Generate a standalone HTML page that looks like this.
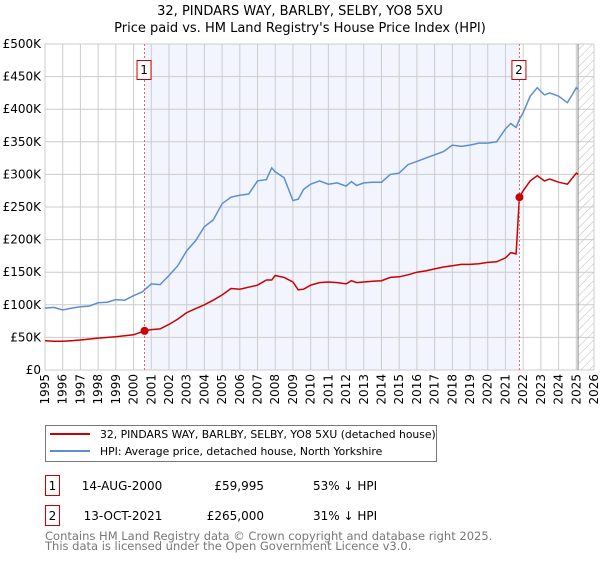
<!DOCTYPE html>
<html><head><meta charset="utf-8"><style>
body{margin:0;background:#fff;font-family:"DejaVu Sans","Liberation Sans",sans-serif;}
svg text{font-family:"DejaVu Sans","Liberation Sans",sans-serif;}
</style></head><body>
<svg id="c" width="600" height="560" xmlns="http://www.w3.org/2000/svg">
<defs><pattern id="hatch" width="6" height="6" patternUnits="userSpaceOnUse" patternTransform="rotate(45)"><line x1="0" y1="0" x2="0" y2="6" stroke="#bbb" stroke-width="1"/></pattern></defs>
<text x="300" y="15" text-anchor="middle" font-size="13">32, PINDARS WAY, BARLBY, SELBY, YO8 5XU</text>
<text x="300" y="32" text-anchor="middle" font-size="13">Price paid vs. HM Land Registry's House Price Index (HPI)</text>
<g id="plot"></g>
<rect x="45.5" y="425.5" width="391" height="36" fill="#fff" stroke="#777"/>
<line x1="50" y1="434" x2="90" y2="434" stroke="#cc0000" stroke-width="2"/>
<text x="100" y="438" font-size="10.8">32, PINDARS WAY, BARLBY, SELBY, YO8 5XU (detached house)</text>
<line x1="50" y1="451" x2="90" y2="451" stroke="#5b8fd4" stroke-width="2"/>
<text x="100" y="455" font-size="10.8">HPI: Average price, detached house, North Yorkshire</text>
<g font-size="12">
<rect x="45.5" y="475.5" width="14" height="20" fill="#fff" stroke="#cc0000"/>
<text x="52.5" y="490" text-anchor="middle">1</text>
<text x="122" y="490" text-anchor="middle">14-AUG-2000</text>
<text x="264" y="490" text-anchor="end">£59,995</text>
<text x="313" y="490">53% ↓ HPI</text>
<rect x="45.5" y="505.5" width="14" height="20" fill="#fff" stroke="#cc0000"/>
<text x="52.5" y="520" text-anchor="middle">2</text>
<text x="123" y="520" text-anchor="middle">13-OCT-2021</text>
<text x="264" y="520" text-anchor="end">£265,000</text>
<text x="313" y="520">31% ↓ HPI</text>
</g>
<text x="45" y="540" font-size="11.5" fill="#777">Contains HM Land Registry data © Crown copyright and database right 2025.</text>
<text x="45" y="550" font-size="11.5" fill="#777">This data is licensed under the Open Government Licence v3.0.</text>
</svg>
<script>
const yTicks=[0,50000,100000,150000,200000,250000,300000,350000,400000,450000,500000];
const yTickLabels=["£0","£50K","£100K","£150K","£200K","£250K","£300K","£350K","£400K","£450K","£500K"];
const xYears=[1995,1996,1997,1998,1999,2000,2001,2002,2003,2004,2005,2006,2007,2008,2009,2010,2011,2012,2013,2014,2015,2016,2017,2018,2019,2020,2021,2022,2023,2024,2025,2026];
const hpiT=[1995,1995.5,1996,1996.5,1997,1997.5,1998,1998.5,1999,1999.5,2000,2000.5,2001,2001.5,2002,2002.5,2003,2003.5,2004,2004.5,2005,2005.5,2006,2006.5,2007,2007.5,2007.8,2008,2008.5,2009,2009.3,2009.6,2010,2010.5,2011,2011.5,2012,2012.3,2012.6,2013,2013.5,2014,2014.5,2015,2015.5,2016,2016.5,2017,2017.5,2018,2018.5,2019,2019.5,2020,2020.5,2021,2021.3,2021.6,2021.8,2022,2022.4,2022.8,2023.2,2023.5,2024,2024.5,2025,2025.1];
const hpiV=[95000,96000,92000,95000,97000,98000,103000,104000,108000,107000,114000,120000,132000,131000,145000,160000,183000,198000,220000,230000,255000,265000,268000,270000,290000,292000,310000,304000,295000,260000,262000,277000,285000,290000,285000,287000,282000,289000,283000,287000,288000,288000,300000,302000,315000,320000,325000,330000,335000,345000,343000,345000,348000,348000,350000,370000,378000,372000,385000,395000,420000,433000,422000,425000,420000,410000,433000,430000];
const ppT=[1995,1995.5,1996,1996.5,1997,1998,1999,2000,2000.62,2001,2001.5,2002,2002.5,2003,2003.5,2004,2004.5,2005,2005.5,2006,2006.5,2007,2007.5,2007.8,2008,2008.5,2009,2009.3,2009.6,2010,2010.5,2011,2011.5,2012,2012.3,2012.6,2013,2013.5,2014,2014.5,2015,2015.5,2016,2016.5,2017,2017.5,2018,2018.5,2019,2019.5,2020,2020.5,2021,2021.3,2021.6,2021.79,2022,2022.4,2022.8,2023.2,2023.5,2024,2024.5,2025,2025.1];
const ppV=[45000,44000,44000,45000,46000,49000,51000,54000,60000,62000,63000,70000,78000,88000,94000,100000,107000,115000,125000,124000,127000,130000,138000,138000,145000,142000,135000,123000,124000,130000,134000,135000,134000,132000,137000,134000,135000,136000,137000,142000,143000,146000,150000,152000,155000,158000,160000,162000,162000,163000,165000,166000,172000,180000,178000,265000,275000,290000,298000,290000,293000,288000,285000,302000,300000];
const sales=[{n:"1",t:2000.62,v:59995},{n:"2",t:2021.79,v:265000}];
const X0=45,X1=594,Y0=370,Y1=44;
const x=t=>X0+(t-1995)/(2026-1995)*(X1-X0);
const y=v=>Y0-v/500000*(Y0-Y1);
const NS="http://www.w3.org/2000/svg";
const g=document.getElementById('plot');
function mk(tag,attrs,parent){const e=document.createElementNS(NS,tag);for(const k in attrs)e.setAttribute(k,attrs[k]);(parent||g).appendChild(e);return e;}
let e;
e=mk('rect',{x:x(sales[0].t),y:Y1,width:x(sales[1].t)-x(sales[0].t),height:Y0-Y1,fill:'#f2f5fd'});


e=mk('rect',{x:x(2025.1),y:Y1,width:X1-x(2025.1),height:Y0-Y1,fill:'url(#hatch)'});


xYears.forEach((yr,i)=>{
 e=mk('line',{x1:x(yr),x2:x(yr),y1:Y1,y2:Y0,stroke:'#cccccc'});
 
 
 const lx=x(yr)+4, ly=Y0+4;
 e=mk('text',{x:lx,y:ly,'text-anchor':'end','font-size':'12'});
 e.setAttribute('transform','rotate(-90 '+lx.toFixed(1)+' '+ly+')');
 e.textContent=yr;
 
 
});
yTicks.forEach((v,i)=>{
 e=mk('line',{x1:X0,x2:X1,y1:y(v),y2:y(v),stroke:'#cccccc'});
 
 
 e=mk('text',{x:X0-4,y:y(v)+4,'text-anchor':'end','font-size':'12'});
 e.textContent=yTickLabels[i];
 
 
});
e=mk('line',{x1:x(2025.1),x2:x(2025.1),y1:Y1,y2:Y0,stroke:'#888'});


e=mk('path',{d:hpiT.map((t,i)=>(i?'L':'M')+x(t).toFixed(1)+','+y(hpiV[i]).toFixed(1)).join(''),fill:'none',stroke:'#5b8fd4','stroke-width':1.5});


e=mk('path',{d:ppT.map((t,i)=>(i?'L':'M')+x(t).toFixed(1)+','+y(ppV[i]).toFixed(1)).join(''),fill:'none',stroke:'#cc0000','stroke-width':1.5});


sales.forEach(s=>{
 e=mk('line',{x1:x(s.t),x2:x(s.t),y1:Y1,y2:Y0,stroke:'#e06666','stroke-dasharray':'2,2'});
 
 
 e=mk('circle',{cx:x(s.t),cy:y(s.v),r:4,fill:'#cc0000'});
 
 
 e=mk('rect',{x:x(s.t)-7.5,y:60.5,width:14,height:19,fill:'#fff',stroke:'#cc0000'});
 
 
 e=mk('text',{x:x(s.t)-0.5,y:74,'text-anchor':'middle','font-size':'12'});
 e.textContent=s.n;
 
 
});
</script>
</body></html>
